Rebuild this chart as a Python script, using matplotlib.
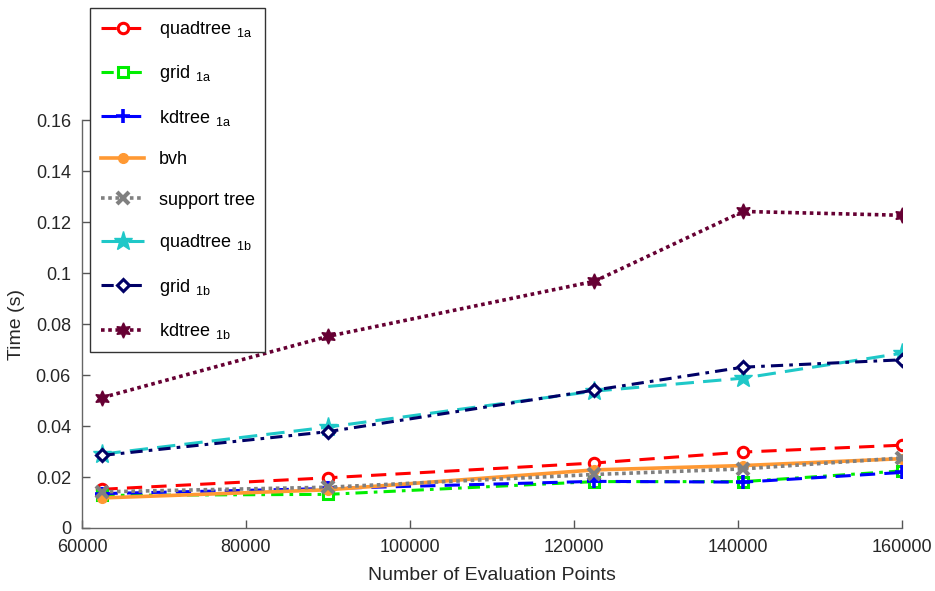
import matplotlib
matplotlib.use("Agg")
import matplotlib.pyplot as plt

plt.rcParams['font.family'] = ['Liberation Sans', 'DejaVu Sans']
plt.rcParams['mathtext.fontset'] = 'custom'
plt.rcParams['mathtext.rm'] = 'Liberation Sans'

points = [62500, 90000, 122500, 140625, 160000]

quadtree_1a = [0.0152, 0.0197, 0.0255, 0.0298, 0.0325]
grid_1a = [0.0128, 0.0132, 0.0182, 0.0182, 0.0224]
kdtree_1a = [0.0135, 0.0155, 0.0183, 0.0180, 0.0218]
bvh = [0.0118, 0.0150, 0.0228, 0.0245, 0.0272]
support_tree = [0.0142, 0.0160, 0.0210, 0.0232, 0.0275]
quadtree_1b = [0.0290, 0.0396, 0.0537, 0.0588, 0.0686]
grid_1b = [0.0285, 0.0378, 0.0541, 0.0631, 0.0660]
kdtree_1b = [0.0512, 0.0752, 0.0968, 0.1242, 0.1227]

labels = [r'quadtree$\ _{\mathregular{1a}}$', r'grid$\ _{\mathregular{1a}}$',
          r'kdtree$\ _{\mathregular{1a}}$', 'bvh', 'support tree',
          r'quadtree$\ _{\mathregular{1b}}$', r'grid$\ _{\mathregular{1b}}$',
          r'kdtree$\ _{\mathregular{1b}}$']

fig = plt.figure(figsize=(9.35, 5.91), dpi=100)
ax = fig.add_axes([0.0877, 0.1066, 0.8770, 0.6900])

lw = 2.2
ax.plot(points, quadtree_1a, color='#ff0000', ls=(0, (5, 3)), lw=lw, marker='o',
        mfc='white', mec='#ff0000', mew=2.2, ms=7.5, label=labels[0])
ax.plot(points, grid_1a, color='#00ee00', ls=(0, (4, 2, 1.2, 2)), lw=lw, marker='s',
        mfc='white', mec='#00ee00', mew=2.2, ms=7.5, label=labels[1])
ax.plot(points, kdtree_1a, color='#0000ff', ls=(0, (5, 3)), lw=lw, marker='+',
        mew=2.6, ms=10, label=labels[2])
ax.plot(points, bvh, color='#ff9933', ls='-', lw=2.6, marker='o',
        mfc='#ff9933', mec='#ff9933', ms=7, label=labels[3])
ax.plot(points, support_tree, color='#808080', ls=(0, (1, 1)), lw=2.6, marker='x',
        mew=3, ms=9, label=labels[4])
ax.plot(points, quadtree_1b, color='#1fc8c8', ls=(0, (6, 3)), lw=lw, marker='*',
        mfc='#1fc8c8', mec='#1fc8c8', ms=14, label=labels[5])
ax.plot(points, grid_1b, color='#000066', ls=(0, (4, 2, 1.2, 2)), lw=lw, marker='D',
        mfc='white', mec='#000066', mew=2.2, ms=6, label=labels[6])
ax.plot(points, kdtree_1b, color='#660033', ls=(0, (1, 1)), lw=2.6, marker=(6, 1, 0),
        mfc='#660033', mec='#660033', ms=11, label=labels[7])

ax.set_xlim(60000, 160000)
ax.set_ylim(0, 0.16)
ax.set_xticks([60000, 80000, 100000, 120000, 140000, 160000])
ax.set_xticklabels(['60000', '80000', '100000', '120000', '140000', '160000'])
ax.set_yticks([0, 0.02, 0.04, 0.06, 0.08, 0.1, 0.12, 0.14, 0.16])
ax.set_yticklabels(['0', '0.02', '0.04', '0.06', '0.08', '0.1', '0.12', '0.14', '0.16'])
ax.tick_params(direction='in', length=6, width=1, colors='#555555',
               labelcolor='#262626', labelsize=13, pad=8)
for s in ['top', 'right']:
    ax.spines[s].set_visible(False)
for s in ['left', 'bottom']:
    ax.spines[s].set_color('#666666')
    ax.spines[s].set_linewidth(1)

ax.set_xlabel('Number of Evaluation Points', fontsize=14, color='#262626', labelpad=8)
ax.set_ylabel('Time (s)', fontsize=14, color='#262626', labelpad=8)

leg = ax.legend(loc='upper left', bbox_to_anchor=(90 / 935, 1 - 8 / 591),
                bbox_transform=fig.transFigure, fontsize=13, handlelength=2.4,
                labelspacing=1.3, borderpad=0.6, fancybox=False, framealpha=1,
                edgecolor='#333333', borderaxespad=0, handletextpad=0.8)
leg.get_frame().set_linewidth(1)

fig.savefig('out.png', dpi=100)
